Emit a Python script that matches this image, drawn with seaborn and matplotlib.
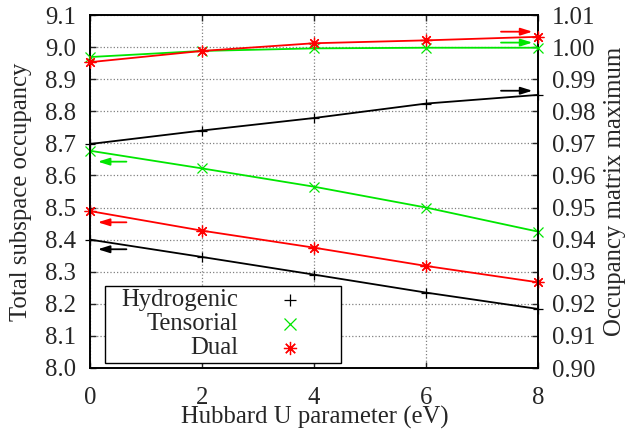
import numpy as np
import pandas as pd
import seaborn as sns
import matplotlib.pyplot as plt
from matplotlib.patches import Rectangle

# Hubbard U values (eV)
u_values = [0, 2, 4, 6, 8]

# total subspace occupancy (left axis)
occ_hydrogenic = [8.400, 8.346, 8.291, 8.235, 8.184]
occ_tensorial = [8.677, 8.622, 8.565, 8.500, 8.425]
occ_dual = [8.489, 8.428, 8.375, 8.318, 8.267]

# occupancy matrix maximum (right axis)
max_hydrogenic = [0.9698, 0.9740, 0.9779, 0.9824, 0.9851]
max_tensorial = [0.9969, 0.9988, 0.9996, 0.9998, 0.9998]
max_dual = [0.9953, 0.9988, 1.0012, 1.0021, 1.0032]

series_names = ['Hydrogenic', 'Tensorial', 'Dual']
colors = {'Hydrogenic': 'black', 'Tensorial': '#00e600', 'Dual': '#ff0000'}
marks = {'Hydrogenic': '+', 'Tensorial': 'x', 'Dual': (8, 2, 0)}
msizes = {'Hydrogenic': 7, 'Tensorial': 7, 'Dual': 8.5}

left = pd.DataFrame({'U': u_values * 3,
                     'value': occ_hydrogenic + occ_tensorial + occ_dual,
                     'basis': np.repeat(series_names, len(u_values))})
right = pd.DataFrame({'U': u_values * 3,
                      'value': max_hydrogenic + max_tensorial + max_dual,
                      'basis': np.repeat(series_names, len(u_values))})

sns.set_style('ticks')
plt.rcParams['font.family'] = ['Liberation Serif', 'DejaVu Serif']
FS = 17.8

fig = plt.figure(figsize=(6.31, 4.30), dpi=100)
ax = fig.add_axes([90 / 631, 62 / 430, 448 / 631, 353 / 430])
ax2 = ax.twinx()

for name in series_names:
    for a, df in ((ax, left), (ax2, right)):
        sub = df[df['basis'] == name]
        sns.lineplot(data=sub, x='U', y='value', ax=a, color=colors[name],
                     marker=marks[name], markersize=msizes[name],
                     markeredgewidth=0.9, markeredgecolor=colors[name],
                     linewidth=1.3, legend=False, zorder=3, clip_on=False)

ax.set_xlim(0, 8)
ax.set_ylim(8.0, 9.1)
ax2.set_ylim(0.90, 1.01)
ax.set_xticks([0, 2, 4, 6, 8])
ax.set_yticks(np.round(np.arange(8.0, 9.101, 0.1), 1))
ax2.set_yticks(np.round(np.arange(0.90, 1.0101, 0.01), 2))
ax.yaxis.set_major_formatter(plt.FormatStrFormatter('%.1f'))
ax2.yaxis.set_major_formatter(plt.FormatStrFormatter('%.2f'))

ax.grid(True, linestyle=':', color='#808080', linewidth=0.9)
ax.tick_params(axis='x', direction='in', labelsize=FS, length=4.5,
               width=1, pad=13.5, top=True)
ax.tick_params(axis='y', direction='in', labelsize=FS, length=4.5,
               width=1, pad=10, right=False)
ax2.tick_params(axis='y', direction='in', labelsize=FS, length=4.5,
                width=1, pad=10)
for a in (ax, ax2):
    for s in a.spines.values():
        s.set_linewidth(1.2)
        s.set_color('black')

ax.set_xlabel('Hubbard U parameter (eV)', fontsize=FS, va='baseline')
ax.set_ylabel('Total subspace occupancy', fontsize=FS)
ax2.set_ylabel('Occupancy matrix maximum', fontsize=FS)
ax.xaxis.set_label_coords(0.501, -0.1586)
ax.yaxis.set_label_coords(-0.130, 0.5)
ax2.yaxis.set_label_coords(1.148, 0.5)

# arrows telling which axis each set of curves belongs to
arrow_kw = dict(arrowstyle='-|>,head_length=0.7,head_width=0.22', lw=1.3)
for name, y in zip(series_names, [8.370, 8.643, 8.454]):
    ax.annotate('', xy=(0.09, y), xytext=(0.70, y),
                arrowprops=dict(color=colors[name], **arrow_kw), zorder=4)
for name, y in zip(series_names, [0.9864, 1.0014, 1.0048]):
    ax2.annotate('', xy=(7.95, y), xytext=(7.29, y),
                 arrowprops=dict(color=colors[name], **arrow_kw), zorder=4)

# gnuplot-style key: right-aligned labels followed by the point symbol
ax2.add_patch(Rectangle((0.0335, 0.0142), 0.5268, 0.2181,
                        transform=ax2.transAxes, facecolor='white',
                        edgecolor='black', linewidth=1.0, zorder=5,
                        clip_on=False))
key_rows = [0.1926, 0.1246, 0.0567]
for name, yk in zip(series_names, key_rows):
    ax2.text(0.3304, yk - 0.017, name, transform=ax2.transAxes,
             ha='right', va='baseline', fontsize=FS, zorder=6)
    ax2.plot([0.4464], [yk], transform=ax2.transAxes, linestyle='none',
             marker=marks[name], color=colors[name],
             markeredgecolor=colors[name], markersize=msizes[name] + 1,
             markeredgewidth=0.9, zorder=6, clip_on=False)

fig.savefig('out.png', dpi=100)
